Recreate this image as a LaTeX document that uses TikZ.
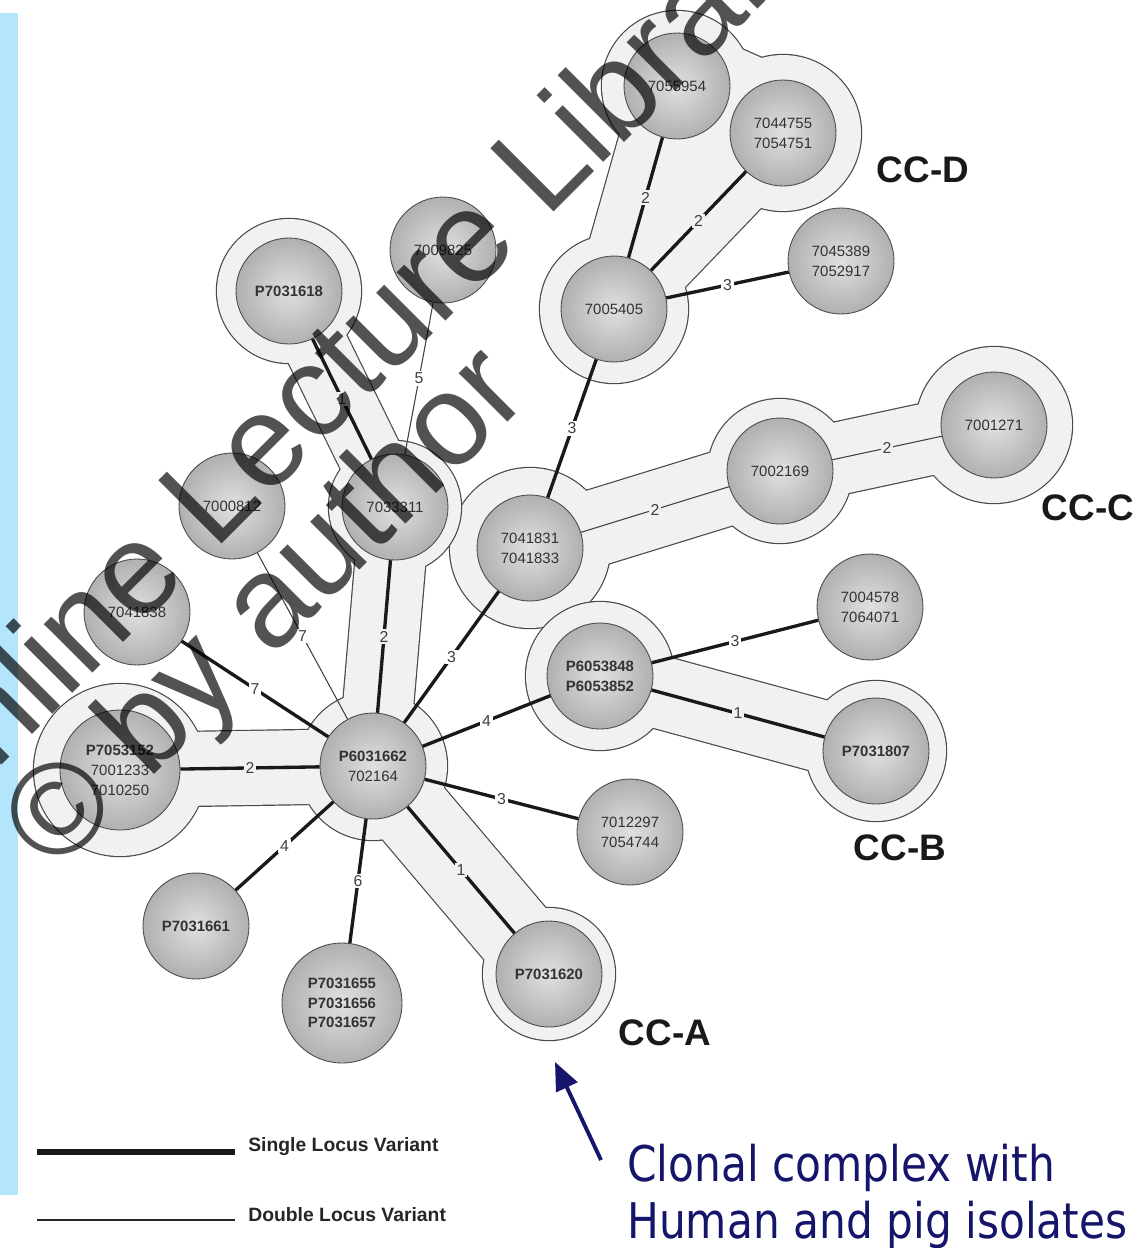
\documentclass[tikz,border=0pt]{standalone}
\usepackage{fontspec}
\setmainfont{Liberation Sans}
\newfontfamily\notefont{DejaVu Sans}[FakeStretch=0.86]
\usepackage{xcolor}
\definecolor{hullfill}{HTML}{F1F1F1}
\definecolor{hulledge}{HTML}{4A4A4A}
\definecolor{stripblue}{HTML}{B3E5FC}
\definecolor{notenavy}{HTML}{15156B}
\usetikzlibrary{arrows.meta}
\pgfdeclarelayer{back}
\pgfdeclarelayer{hull}
\pgfsetlayers{back,hull,main}

\begin{document}
\begin{tikzpicture}[x=0.02cm, y=-0.02cm,
    iso/.style={circle, draw=black!70, line width=0.5pt, inner color=black!12,
                outer color=black!31, minimum size=2.12cm, inner sep=0pt,
                align=center, text=black!80,
                font=\fontsize{8.5}{11.3}\selectfont},
    isobig/.style={iso, minimum size=2.4cm},
    slv/.style={line width=1.9pt, color=black!90},
    dlv/.style={line width=0.6pt, color=black!75},
    lvlabel/.style={midway, fill=white, inner sep=1pt, text=black!75,
                    font=\fontsize{9}{9}\selectfont},
    lvlabelin/.style={lvlabel, fill=hullfill},
    cclabel/.style={font=\fontsize{21}{21}\selectfont\bfseries, text=black!90},
    legendtxt/.style={anchor=west, inner sep=0pt,
                      font=\fontsize{11}{11}\selectfont\bfseries, text=black!85},
    note/.style={anchor=west, align=left, inner sep=0pt, text=notenavy,
                 font=\notefont\fontsize{28}{32.5}\selectfont},
    wmark/.style={text=black, text opacity=0.68, rotate=45,
                  font=\fontsize{74}{74}\selectfont}]
  \useasboundingbox (0,0) rectangle (1147,1248);
  \begin{pgfonlayer}{back}
    \fill[white] (0,0) rectangle (1147,1248);
    \fill[stripblue] (0,13) rectangle (18,1195);
  \end{pgfonlayer}

  % isolates
  \node[iso] (n7055954) at (677,86) {7055954};
  \node[iso] (n7044755) at (783,133) {7044755\\7054751};
  \node[iso] (n7045389) at (841,261) {7045389\\7052917};
  \node[iso] (n7005405) at (614,309) {7005405};
  \node[iso] (n7009825) at (443,250) {7009825};
  \node[iso] (p7031618) at (289,291) {\textbf{P7031618}};
  \node[iso] (n7033311) at (395,507) {7033311};
  \node[iso] (n7000812) at (232,506) {7000812};
  \node[iso] (n7041838) at (137,612) {7041838};
  \node[isobig] (p7053152) at (120,770) {\textbf{P7053152}\\7001233\\7010250};
  \node[iso] (p6031662) at (373,766) {\textbf{P6031662}\\702164};
  \node[iso] (n7041831) at (530,548) {7041831\\7041833};
  \node[iso] (n7002169) at (780,471) {7002169};
  \node[iso] (n7001271) at (994,425) {7001271};
  \node[iso] (p6053848) at (600,676) {\textbf{P6053848}\\\textbf{P6053852}};
  \node[iso] (n7004578) at (870,607) {7004578\\7064071};
  \node[iso] (p7031807) at (876,751) {\textbf{P7031807}};
  \node[iso] (n7012297) at (630,832) {7012297\\7054744};
  \node[iso] (p7031661) at (196,926) {\textbf{P7031661}};
  \node[isobig] (p7031655) at (342,1003)
    {\textbf{P7031655}\\\textbf{P7031656}\\\textbf{P7031657}};
  \node[iso] (p7031620) at (549,974) {\textbf{P7031620}};

  % clonal complex hulls: edge colour first, fill on top
  \begin{pgfonlayer}{hull}
    \foreach \pad/\col in {1.2/hulledge, 0/hullfill} {
      \fill[fill=\col] (n7055954.center) -- (n7044755.center)
        -- (n7005405.center) -- cycle;
      \foreach \a/\r in {n7055954/75, n7044755/78, n7005405/74}
        \fill[fill=\col] (\a.center) circle ({\r+\pad});
      \foreach \a/\b/\w in {n7055954/n7044755/60, n7055954/n7005405/42,
                            n7044755/n7005405/36}
        \draw[draw=\col, line width={(\w+\pad)*0.04cm}] (\a.center) -- (\b.center);
    }
    \foreach \pad/\col in {1.2/hulledge, 0/hullfill} {
      \foreach \a/\r in {n7041831/80, n7002169/72, n7001271/78}
        \fill[fill=\col] (\a.center) circle ({\r+\pad});
      \foreach \a/\b/\w in {n7041831/n7002169/38, n7002169/n7001271/36}
        \draw[draw=\col, line width={(\w+\pad)*0.04cm}] (\a.center) -- (\b.center);
    }
    \foreach \pad/\col in {1.2/hulledge, 0/hullfill} {
      \foreach \a/\r in {p6053848/74, p7031807/70}
        \fill[fill=\col] (\a.center) circle ({\r+\pad});
      \draw[draw=\col, line width={(36+\pad)*0.04cm}]
        (p6053848.center) -- (p7031807.center);
    }
    \foreach \pad/\col in {1.2/hulledge, 0/hullfill} {
      \foreach \a/\r in {p7031618/72, n7033311/66, p6031662/74,
                         p7053152/86, p7031620/66}
        \fill[fill=\col] (\a.center) circle ({\r+\pad});
      \foreach \a/\b/\w in {p7031618/n7033311/32, n7033311/p6031662/35,
                            p7053152/p6031662/37, p6031662/p7031620/40}
        \draw[draw=\col, line width={(\w+\pad)*0.04cm}] (\a.center) -- (\b.center);
    }
  \end{pgfonlayer}

  % locus variant links
  \draw[slv] (n7055954) -- node[lvlabelin]{2} (n7005405);
  \draw[slv] (n7044755) -- node[lvlabelin]{2} (n7005405);
  \draw[slv] (n7045389) -- node[lvlabel]{3} (n7005405);
  \draw[slv] (n7005405) -- node[lvlabel]{3} (n7041831);
  \draw[slv] (p7031618) -- node[lvlabelin]{1} (n7033311);
  \draw[dlv] (n7009825) -- node[lvlabel]{5} (n7033311);
  \draw[slv] (n7033311) -- node[lvlabelin]{2} (p6031662);
  \draw[dlv] (n7000812) -- node[lvlabel]{7} (p6031662);
  \draw[slv] (n7041838) -- node[lvlabel]{7} (p6031662);
  \draw[slv] (p7053152) -- node[lvlabelin]{2} (p6031662);
  \draw[slv] (n7041831) -- node[lvlabel]{3} (p6031662);
  \draw[dlv] (n7041831) -- node[lvlabelin]{2} (n7002169);
  \draw[dlv] (n7002169) -- node[lvlabelin]{2} (n7001271);
  \draw[slv] (p6053848) -- node[lvlabel]{4} (p6031662);
  \draw[slv] (p6053848) -- node[lvlabel]{3} (n7004578);
  \draw[slv] (p6053848) -- node[lvlabelin]{1} (p7031807);
  \draw[slv] (p6031662) -- node[lvlabel]{3} (n7012297);
  \draw[slv] (p6031662) -- node[lvlabel]{4} (p7031661);
  \draw[slv] (p6031662) -- node[lvlabel]{6} (p7031655);
  \draw[slv] (p6031662) -- node[lvlabelin]{1} (p7031620);

  % complex names
  \node[cclabel] (ccd) at (923,170) {CC-D};
  \node[cclabel] (ccc) at (1088,508) {CC-C};
  \node[cclabel] (ccb) at (900,848) {CC-B};
  \node[cclabel] (cca) at (665,1033) {CC-A};

  % legend
  \coordinate (slvA) at (37,1152);
  \coordinate (slvB) at (235,1152);
  \coordinate (dlvA) at (37,1220);
  \coordinate (dlvB) at (235,1220);
  \draw[line width=3.4pt, color=black!90] (slvA) -- (slvB);
  \draw[line width=0.8pt, color=black!85] (dlvA) -- (dlvB);
  \node[legendtxt] (slvtxt) at (248,1147) {Single Locus Variant};
  \node[legendtxt] (dlvtxt) at (248,1215) {Double Locus Variant};

  % note and pointer
  \node[note] (note) at (627,1196) {Clonal complex with\\Human and pig isolates};
  \coordinate (arrtail) at (601,1160);
  \coordinate (arrtip) at (555,1062);
  \draw[-{Triangle[length=0.56cm,width=0.46cm]}, line width=2.2pt,
        color=notenavy] (arrtail) -- (arrtip);

  % watermark
  \node[wmark] (wmlib) at (352,367) {Online Lecture Library};
  \node[wmark] (wmauth) at (270,612) {© by author};
\end{tikzpicture}
\end{document}
